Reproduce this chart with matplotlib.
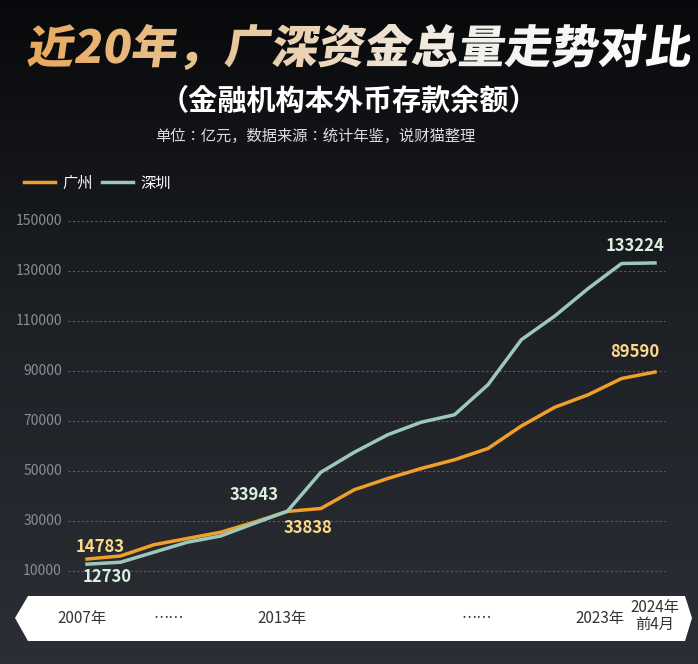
import numpy as np
import matplotlib.pyplot as plt
from matplotlib import font_manager
from matplotlib.patches import Polygon, PathPatch
from matplotlib.colors import LinearSegmentedColormap
from matplotlib.textpath import TextPath
from matplotlib.font_manager import FontProperties
from matplotlib.transforms import Affine2D

names = sorted({f.name for f in font_manager.fontManager.ttflist if 'CJK' in f.name})
cjk = [n for n in ['Noto Sans CJK SC', 'Noto Sans CJK JP', 'Noto Sans CJK TC', 'Noto Sans CJK KR'] if n in names] + names
plt.rcParams['font.family'] = (cjk[:1] if cjk else []) + ['DejaVu Sans']

years = list(range(2007, 2025))
gz = [14783, 16000, 20500, 23000, 25500, 29500, 33838, 35000, 42500, 47000,
      51000, 54500, 59000, 68000, 75500, 80500, 87000, 89590]
sz = [12730, 13500, 17500, 21500, 24000, 29000, 33943, 49500, 57500, 64500,
      69500, 72500, 84500, 102500, 112000, 123000, 133000, 133224]
yticks = [10000, 30000, 50000, 70000, 90000, 110000, 130000, 150000]
banner_labels = [(2007, '2007年'), (2009.6, '……'), (2013, '2013年'), (2018.8, '……'), (2022.5, '2023年')]

W, H = 698, 664
fig = plt.figure(figsize=(W / 100, H / 100), dpi=100)

# background gradient: black on top, dark grey below
bg = fig.add_axes([0, 0, 1, 1])
grad = np.linspace(0, 1, 256).reshape(-1, 1)
cm = LinearSegmentedColormap.from_list('bg', ['#08090b', '#1e2126', '#2b2e34'])
bg.imshow(grad, aspect='auto', cmap=cm, extent=[0, W, H, 0])
bg.set_xlim(0, W); bg.set_ylim(H, 0); bg.axis('off')

def px(x, y):
    return x / W, 1 - y / H

# title with orange -> white horizontal gradient
title = '近20年，广深资金总量走势对比'
fp = FontProperties(family=plt.rcParams['font.family'][0], weight='black')
tp = TextPath((0, 0), title, size=44, prop=fp)
ext = tp.get_extents()
sx = (685 - 22) / ext.width
tr = Affine2D().translate(-ext.x0, -ext.y0).scale(sx, -46 / ext.height).skew_deg(-8, 0).translate(26, 70)
tpath = tr.transform_path(tp)
patch = PathPatch(tpath, facecolor='none', edgecolor='none', transform=bg.transData)
bg.add_patch(patch)
tcm = LinearSegmentedColormap.from_list('t', ['#e9a85a', '#e8c9a0', '#f2f0ec', '#ffffff'])
img = bg.imshow(np.linspace(0, 1, 256).reshape(1, -1), aspect='auto', cmap=tcm,
                extent=[20, 690, 75, 20])
img.set_clip_path(patch)
bg.set_xlim(0, W); bg.set_ylim(H, 0)

fig.text(*px(349, 101), '（金融机构本外币存款余额）', color='white', fontsize=21,
         fontweight='bold', ha='center', va='center')
fig.text(*px(155, 136), '单位：亿元，数据来源：统计年鉴，说财猫整理', color='#dddddd', fontsize=11,
         ha='left', va='center')

GZC, SZC = '#f0a02a', '#9cc8bc'

ax = fig.add_axes([0, (H - 590) / H, 1, 390 / H])
ax.set_facecolor('none')
x0 = 2007 - 87 * 17 / 568
x1 = 2024 + 43 * 17 / 568
ax.set_xlim(x0, x1)
ax.set_ylim(10000 - 19 * 400, 150000 + 21 * 400)
ax.axis('off')
gl = x0 + 68 * 17 / 568
gr = x0 + 665 * 17 / 568
for v in yticks:
    ax.hlines(v, gl, gr, colors='#5a5d63', linestyles=(0, (2, 2)), linewidth=0.8)
    ax.text(x0 + 62 * 17 / 568, v, str(v), color='#8a8d92', fontsize=10, ha='right', va='center')

ax.plot(years, gz, color=GZC, linewidth=2.5, label='广州')
ax.plot(years, sz, color=SZC, linewidth=2.5, label='深圳')

def lbl(x, y, s, c):
    ax.text(x, y, s, color=c, fontsize=12, fontweight='bold', ha='center', va='center')

lbl(2007.4, 19500, '14783', '#ffd98a')
lbl(2007.6, 7700, '12730', '#d8f0dc')
lbl(2013.6, 27200, '33838', '#ffd98a')
lbl(2012.0, 40500, '33943', '#d8f0dc')
lbl(2023.4, 140000, '133224', '#d8f0dc')
lbl(2023.4, 97500, '89590', '#ffd98a')

leg = ax.legend(loc='upper left', bbox_to_anchor=(0.015, 1.1), ncol=2, frameon=False,
                fontsize=11, labelcolor='white', handlelength=2.0, handletextpad=0.5,
                columnspacing=0.6)

# bottom banner
poly = [(15, 618), (28, 596), (685, 596), (692, 618), (685, 641), (28, 641)]
bg.add_patch(Polygon(poly, closed=True, facecolor='white', edgecolor='none'))
for yr, s in banner_labels:
    xp = 87 + (yr - 2007) * 568 / 17
    bg.text(xp - 5, 618, s, color='#333333', fontsize=11, ha='center', va='center')
bg.text(655, 616, '2024年\n前4月', color='#333333', fontsize=11, ha='center', va='center',
        linespacing=1.0)

fig.savefig('out.png', dpi=100)
